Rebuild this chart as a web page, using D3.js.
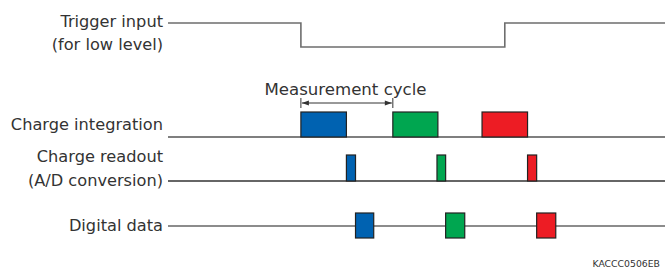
<!DOCTYPE html>
<html>
<head>
<meta charset="utf-8">
<script src="https://cdn.jsdelivr.net/npm/d3@7"></script>
<style>
  html, body { margin: 0; padding: 0; background: #fff; }
  svg { display: block; font-family: "DejaVu Sans", Verdana, sans-serif; }
</style>
</head>
<body>
<div id="chart"></div>
<script>
// Time axis is in measurement cycles (0 = first trigger falling edge)
const timeDomain = [-1.46, 4.0];

// Trigger input: low between these two times
const triggerLow = [0, 2.24];

// Charge integration pulses (start, end) per frame
const integration = [
  { start: 0.0, end: 0.5, color: '#0062b1' },
  { start: 1.01, end: 1.505, color: '#00a650' },
  { start: 1.99, end: 2.49, color: '#ed1c24' }
];

// Charge readout (A/D conversion) pulses
const readout = [
  { start: 0.5, end: 0.6, color: '#0062b1' },
  { start: 1.495, end: 1.59, color: '#00a650' },
  { start: 2.49, end: 2.59, color: '#ed1c24' }
];

// Digital data blocks
const digital = [
  { start: 0.6, end: 0.8, color: '#0062b1' },
  { start: 1.59, end: 1.8, color: '#00a650' },
  { start: 2.59, end: 2.8, color: '#ed1c24' }
];

const cycleSpan = [0, 1.01];

const width = 672, height = 271;

const svg = d3.select('#chart')
  .append('svg')
  .attr('width', width)
  .attr('height', height);

const x = d3.scaleLinear().domain(timeDomain).range([168, 665]);

// Signal levels (row baselines / high levels)
const y = {
  trigHigh: 23, trigLow: 47,
  integBase: 137, integTop: 112,
  readBase: 181, readTop: 155,
  digMid: 226, digTop: 213, digBot: 238
};

const textColor = '#333';
const fontSize = '16.2px';

// Trigger waveform
const trig = [
  [timeDomain[0], y.trigHigh], [triggerLow[0], y.trigHigh],
  [triggerLow[0], y.trigLow], [triggerLow[1], y.trigLow],
  [triggerLow[1], y.trigHigh], [timeDomain[1], y.trigHigh]
];
svg.append('path')
  .attr('d', d3.line().x(d => x(d[0])).y(d => d[1])(trig))
  .attr('fill', 'none')
  .attr('stroke', '#6e6e6e')
  .attr('stroke-width', 1.6);

// Baselines
function baseline(yy, color) {
  svg.append('line')
    .attr('x1', x(timeDomain[0])).attr('x2', x(timeDomain[1]))
    .attr('y1', yy).attr('y2', yy)
    .attr('stroke', color)
    .attr('stroke-width', 1.4);
}
baseline(y.integBase, '#555');
baseline(y.readBase, '#333');
baseline(y.digMid, '#666');

// Pulses
function pulses(data, top, bottom) {
  svg.append('g').selectAll('rect')
    .data(data)
    .join('rect')
    .attr('x', d => x(d.start))
    .attr('y', top)
    .attr('width', d => x(d.end) - x(d.start))
    .attr('height', bottom - top)
    .attr('fill', d => d.color)
    .attr('stroke', '#222')
    .attr('stroke-width', 1.2);
}
pulses(integration, y.integTop, y.integBase);
pulses(readout, y.readTop, y.readBase);
pulses(digital, y.digTop, y.digBot);

// Measurement cycle dimension
const arrowY = 103;
const dim = svg.append('g').attr('stroke', '#333').attr('stroke-width', 1);
cycleSpan.forEach(t => {
  dim.append('line')
    .attr('x1', x(t)).attr('x2', x(t))
    .attr('y1', arrowY - 5).attr('y2', arrowY + 5);
});
dim.append('line')
  .attr('x1', x(cycleSpan[0]) + 1).attr('x2', x(cycleSpan[1]) - 1)
  .attr('y1', arrowY).attr('y2', arrowY);
svg.append('path')
  .attr('d', `M${x(cycleSpan[0]) + 1},${arrowY} l7,-2.5 v5 z M${x(cycleSpan[1]) - 1},${arrowY} l-7,-2.5 v5 z`)
  .attr('fill', '#333');

svg.append('text')
  .attr('x', 345.5).attr('y', 95)
  .attr('text-anchor', 'middle')
  .attr('font-size', '16.6px')
  .attr('fill', textColor)
  .text('Measurement cycle');

// Row labels
const labels = [
  { text: 'Trigger input', y: 27 },
  { text: '(for low level)', y: 50 },
  { text: 'Charge integration', y: 130 },
  { text: 'Charge readout', y: 162 },
  { text: '(A/D conversion)', y: 186 },
  { text: 'Digital data', y: 231 }
];
svg.append('g').selectAll('text')
  .data(labels)
  .join('text')
  .attr('x', 163)
  .attr('y', d => d.y)
  .attr('text-anchor', 'end')
  .attr('font-size', fontSize)
  .attr('fill', textColor)
  .text(d => d.text);

svg.append('text')
  .attr('x', 660).attr('y', 267)
  .attr('text-anchor', 'end')
  .attr('font-size', '9.3px')
  .attr('fill', '#333')
  .text('KACCC0506EB');
</script>
</body>
</html>
